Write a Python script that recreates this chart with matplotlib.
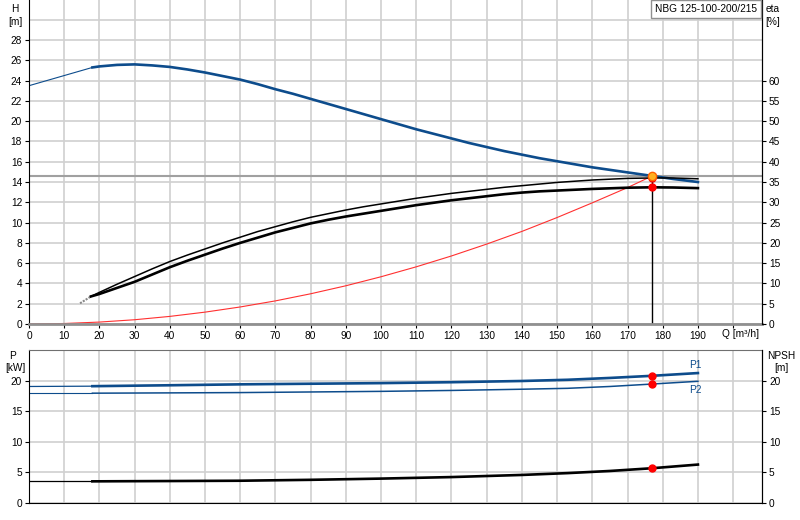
import matplotlib.pyplot as plt

plt.rcParams['font.family'] = ['Liberation Sans', 'DejaVu Sans']
plt.rcParams['font.size'] = 7.3

# head curve H [m]
q_h = [0, 10, 18, 20, 25, 30, 35, 40, 45, 50, 55, 60, 65, 70, 75, 80, 85, 90, 95, 100,
       105, 110, 115, 120, 125, 130, 135, 140, 145, 150, 155, 160, 165, 170, 177, 183, 190]
h = [23.5, 24.5, 25.3, 25.4, 25.55, 25.6, 25.5, 25.35, 25.1, 24.8, 24.45, 24.1, 23.65, 23.15,
     22.7, 22.2, 21.7, 21.2, 20.7, 20.2, 19.7, 19.2, 18.75, 18.3, 17.85, 17.45, 17.05, 16.7,
     16.35, 16.05, 15.75, 15.45, 15.2, 14.95, 14.6, 14.3, 14.0]

# efficiency curves eta [%]
q_eta = [17.6, 20, 25, 30, 35, 40, 45, 50, 55, 60, 65, 70, 75, 80, 85, 90, 95, 100, 105, 110,
         115, 120, 125, 130, 135, 140, 145, 150, 155, 160, 165, 170, 177, 183, 190]
eta_1 = [6.8, 7.8, 9.8, 11.7, 13.6, 15.4, 17.0, 18.5, 20.0, 21.4, 22.8, 24.0, 25.2, 26.3, 27.2,
         28.1, 28.9, 29.6, 30.3, 31.0, 31.6, 32.2, 32.7, 33.2, 33.7, 34.1, 34.5, 34.9, 35.2,
         35.5, 35.7, 35.9, 36.0, 36.0, 35.8]
eta_2 = [6.8, 7.4, 8.9, 10.4, 12.2, 14.0, 15.6, 17.1, 18.6, 20.0, 21.3, 22.6, 23.7, 24.8, 25.7,
         26.5, 27.2, 27.9, 28.6, 29.3, 29.9, 30.5, 31.0, 31.5, 32.0, 32.4, 32.7, 32.9, 33.1,
         33.3, 33.45, 33.6, 33.7, 33.65, 33.5]
q_eta_ext = [14.5, 17.6]
eta_ext = [5.1, 6.8]

# system curve
q_sys = [0, 10, 20, 30, 40, 50, 60, 70, 80, 90, 100, 110, 120, 130, 140, 150, 160, 170, 177]
h_sys = [0, 0.05, 0.19, 0.42, 0.75, 1.17, 1.68, 2.28, 2.98, 3.77, 4.66, 5.64, 6.71, 7.88, 9.13,
         10.5, 11.95, 13.45, 14.6]

# operating point
q_op = 177
h_op = 14.6
eta_op = [36.0, 33.7]

# power and NPSH
q_p = [0, 18, 40, 60, 80, 100, 120, 140, 153, 165, 177, 190]
p1 = [19.1, 19.15, 19.3, 19.45, 19.55, 19.65, 19.8, 20.0, 20.2, 20.5, 20.85, 21.3]
p2 = [18.0, 18.0, 18.05, 18.1, 18.2, 18.3, 18.45, 18.65, 18.8, 19.1, 19.5, 19.95]
npsh = [3.55, 3.55, 3.6, 3.65, 3.8, 4.0, 4.25, 4.6, 4.9, 5.25, 5.7, 6.3]
p1_op, p2_op, npsh_op = 20.85, 19.5, 5.7

q_ticks = list(range(0, 200, 10))
blue = '#0d4c8c'
grid_c = '#d0d0d0'

fig = plt.figure(figsize=(8, 5.2), dpi=100)
ax = fig.add_axes([29 / 800, 1 - 324 / 520, 733 / 800, 324 / 520])
ax2 = ax.twinx()
bx = fig.add_axes([29 / 800, 1 - 503 / 520, 733 / 800, 153 / 520])
bx2 = bx.twinx()

for a in (ax, bx):
    a.set_xlim(0, 208.2)
    a.set_xticks(q_ticks + [200])
    a.grid(True, color=grid_c, lw=1.2)
    a.set_axisbelow(True)
    for s in ('left', 'right', 'bottom'):
        a.spines[s].set_color('black')

tick_kw = dict(length=3, pad=2, labelsize=7.3)

ax.set_ylim(0, 31.95)
ax.set_yticks(range(0, 30, 2))
ax.axhline(30, color=grid_c, lw=1.2, zorder=0)
ax.set_xticklabels([str(v) for v in q_ticks] + [''])
ax.tick_params(axis='both', **tick_kw)
ax.spines['top'].set_visible(False)
ax.spines['bottom'].set_color('#909090')
ax.spines['bottom'].set_linewidth(2)
ax2.set_ylim(0, 31.95 * 2.5)
ax2.set_yticks(range(0, 65, 5))
ax2.tick_params(axis='y', **tick_kw)
for s in ('top', 'left', 'bottom'):
    ax2.spines[s].set_visible(False)

ax.axhline(h_op, color='#a0a0a0', lw=1.5, zorder=1)
ax.plot(q_h[:3], h[:3], color=blue, lw=0.8)
ax.plot(q_h[2:], h[2:], color=blue, lw=1.9)
ax.plot(q_sys, h_sys, color='#ff3030', lw=0.8)
ax.plot([q_op, q_op], [0, h_op], color='black', lw=1)
ax2.plot(q_eta_ext, eta_ext, color='#888888', lw=1.5, ls=(0, (1, 0.6)))
ax2.plot(q_eta, eta_1, color='black', lw=1.1)
ax2.plot(q_eta, eta_2, color='black', lw=1.9)
ax2.plot([q_op] * 2, eta_op, 'o', color='red', ms=5)
ax2.plot([q_op], [h_op * 2.5], 'o', color='#ffb020', mec='#ff6000', ms=6, zorder=5)
fig.text(722 / 800, 1 - 334 / 520, 'Q [m³/h]', ha='left', va='center')

bx.set_ylim(0, 25.08)
bx.set_yticks(range(0, 25, 5))
bx.set_xticklabels([])
bx.tick_params(axis='x', length=0)
bx.tick_params(axis='y', **tick_kw)
bx.spines['top'].set_color('#707070')
bx2.set_ylim(0, 25.08)
bx2.set_yticks(range(0, 25, 5))
bx2.tick_params(axis='y', **tick_kw)
for s in ('top', 'left', 'bottom'):
    bx2.spines[s].set_visible(False)

bx.plot(q_p[:2], p1[:2], color=blue, lw=0.9)
bx.plot(q_p[1:], p1[1:], color=blue, lw=1.9)
bx.plot(q_p[:2], p2[:2], color=blue, lw=0.8)
bx.plot(q_p[1:], p2[1:], color=blue, lw=1.1)
bx2.plot(q_p[:2], npsh[:2], color='black', lw=0.9)
bx2.plot(q_p[1:], npsh[1:], color='black', lw=1.9)
bx.plot([q_op] * 2, [p1_op, p2_op], 'o', color='red', ms=5)
bx2.plot([q_op], [npsh_op], 'o', color='red', ms=5)
bx.text(187.5, 22.7, 'P1', color=blue, ha='left', va='center')
bx.text(187.5, 18.6, 'P2', color=blue, ha='left', va='center')

fig.text(15 / 800, 1 - 9 / 520, 'H', ha='center', va='center')
fig.text(15 / 800, 1 - 22 / 520, '[m]', ha='center', va='center')
fig.text(773 / 800, 1 - 9 / 520, 'eta', ha='center', va='center')
fig.text(773 / 800, 1 - 22 / 520, '[%]', ha='center', va='center')
fig.text(13 / 800, 1 - 356 / 520, 'P', ha='center', va='center')
fig.text(15 / 800, 1 - 368 / 520, '[kW]', ha='center', va='center')
fig.text(781 / 800, 1 - 356 / 520, 'NPSH', ha='center', va='center')
fig.text(781 / 800, 1 - 368 / 520, '[m]', ha='center', va='center')
fig.text(706 / 800, 1 - 9 / 520, 'NBG 125-100-200/215', ha='center', va='center',
         bbox=dict(boxstyle='square,pad=0.35', fc='white', ec='#909090', lw=1))

fig.savefig('out.png', dpi=100)
